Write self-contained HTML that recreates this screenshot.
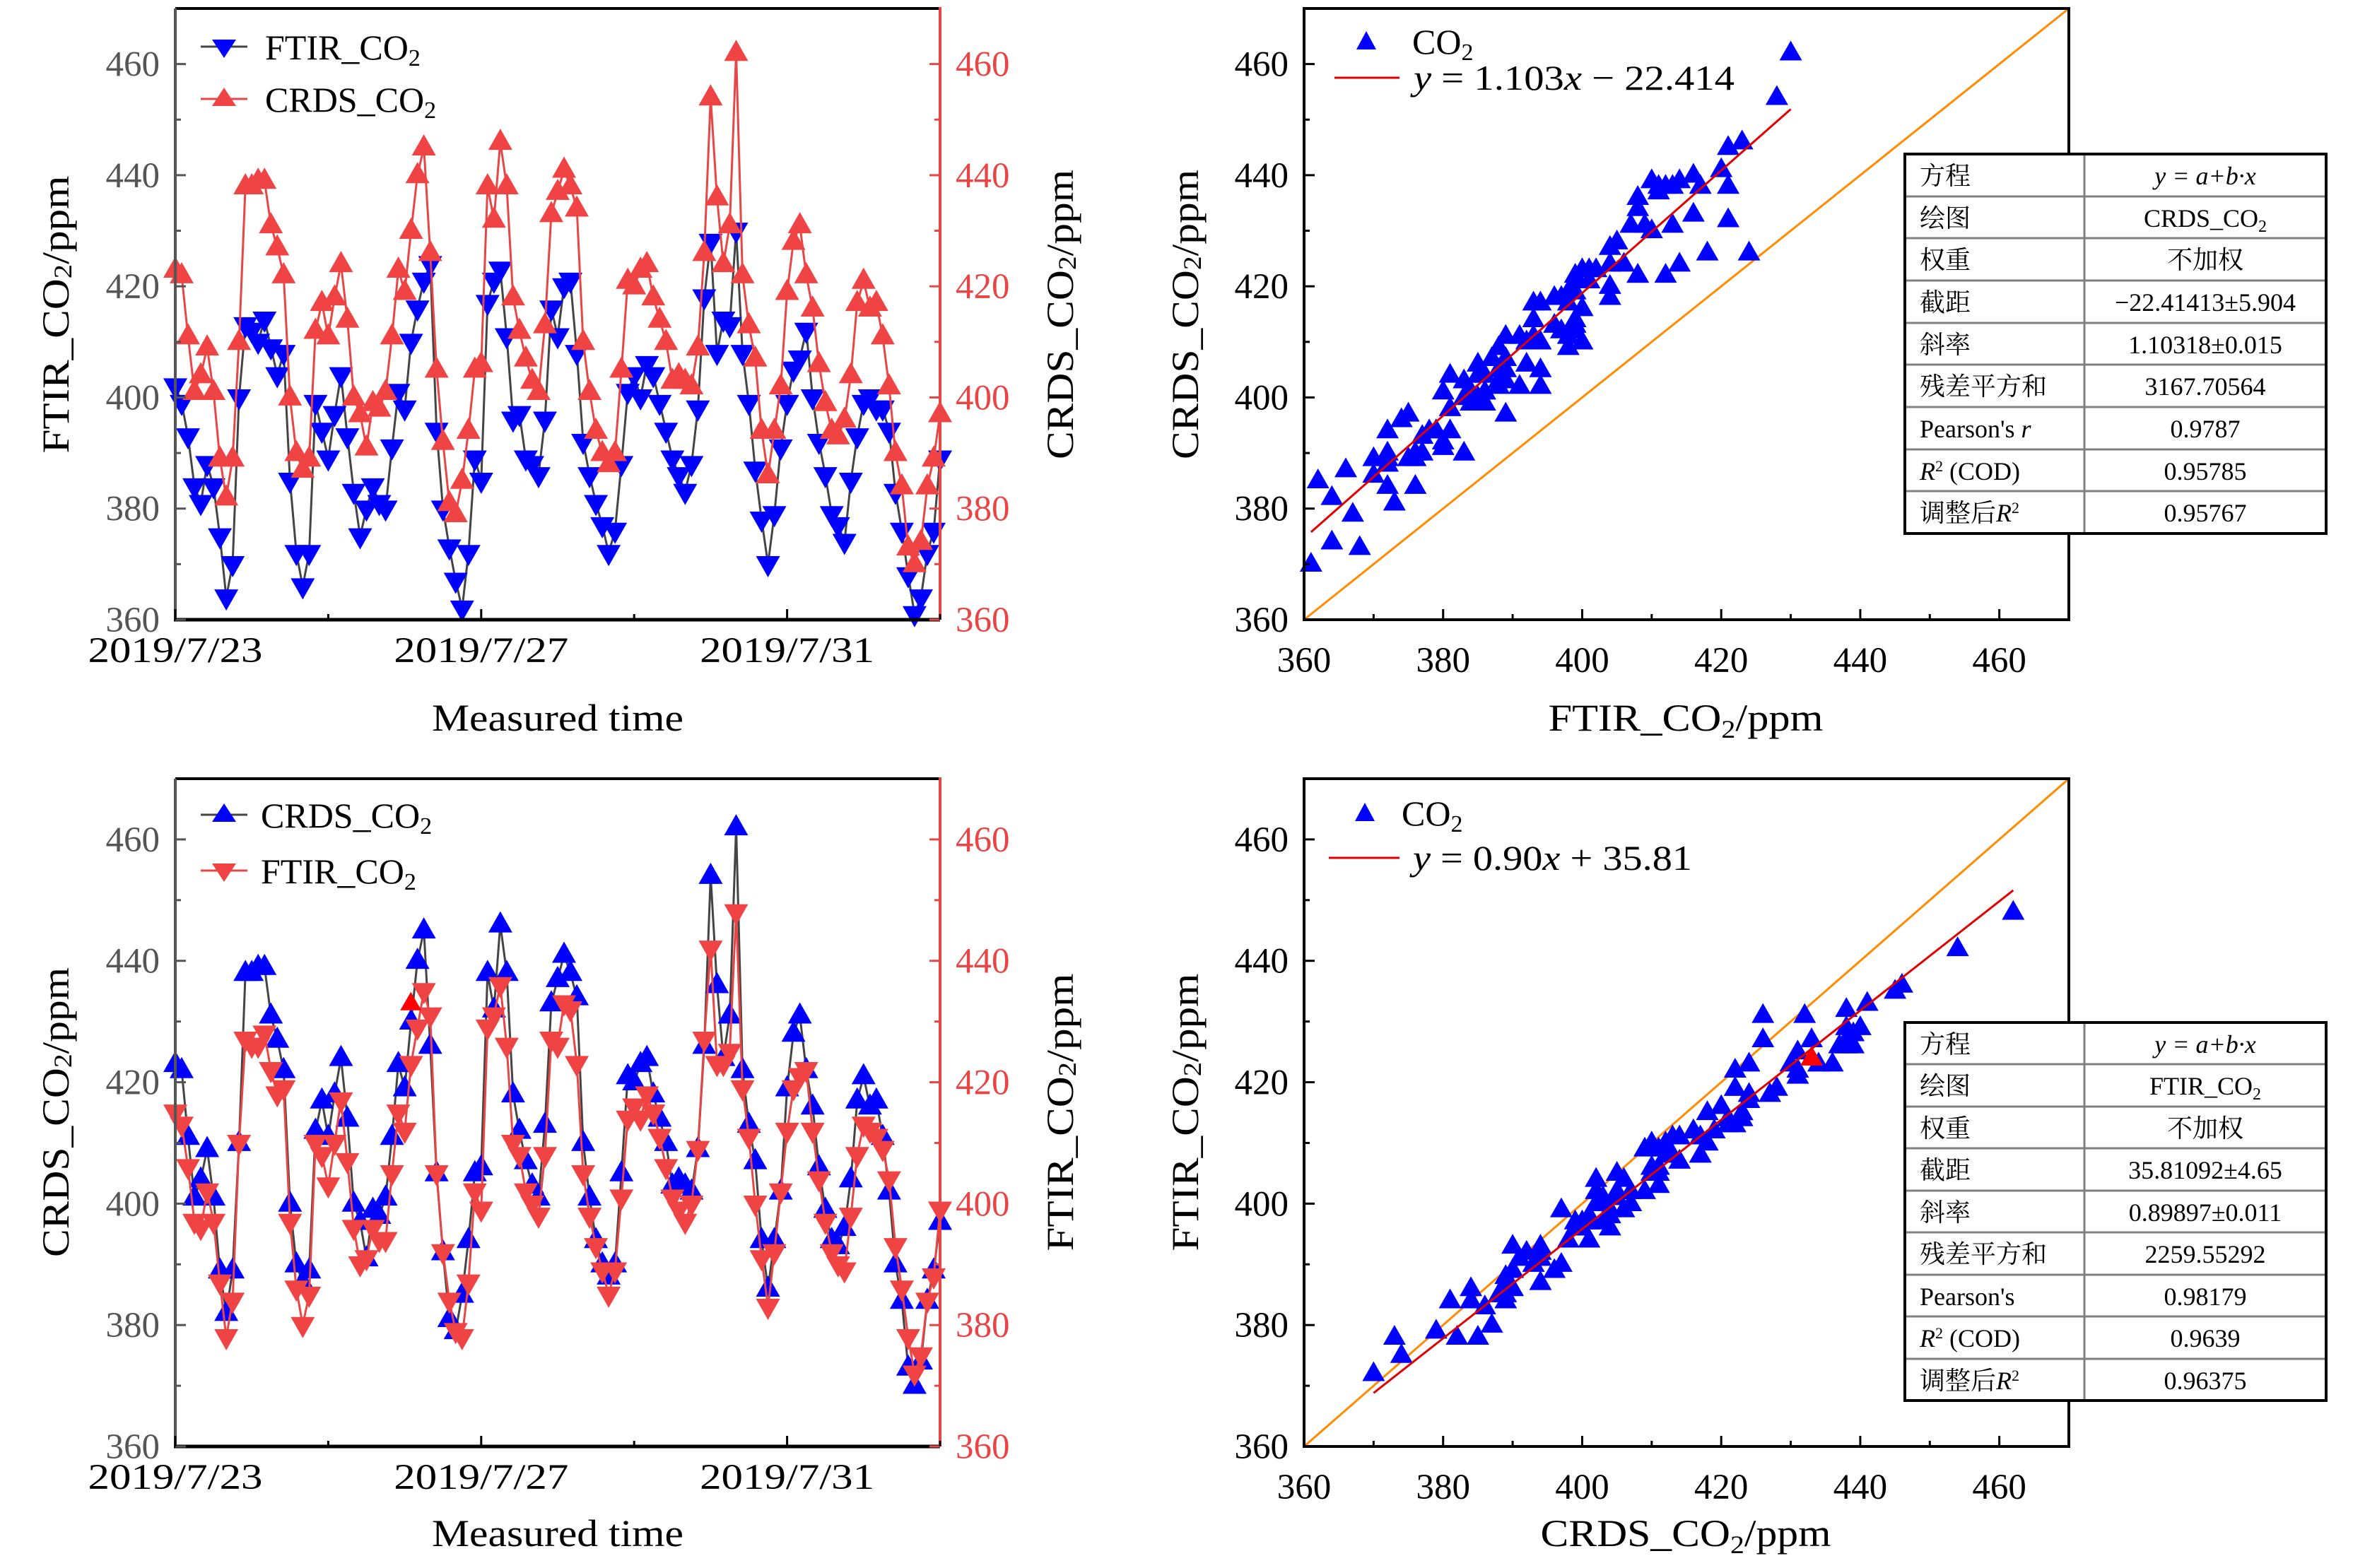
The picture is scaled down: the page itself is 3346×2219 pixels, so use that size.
<!DOCTYPE html>
<html><head><meta charset="utf-8"><title>CO2 comparison</title>
<style>
html,body{margin:0;padding:0;background:#fff;}
svg{display:block;font-family:"Liberation Serif","Noto Serif CJK SC",serif;}
.tk{font-size:51px;}
.tt{font-size:54px;}
.lg{font-size:50px;}
.tb{font-size:36px;font-family:"Liberation Serif","Noto Serif CJK SC",serif;}
</style></head>
<body>
<svg id="fig" width="3346" height="2219" viewBox="0 0 3346 2219" xmlns="http://www.w3.org/2000/svg">
<rect x="0" y="0" width="3346" height="2219" fill="#fff"/>
<g id="p1"></g>
<g id="p2"></g>
<g id="p3"></g>
<g id="p4"></g>

<!-- axis titles -->
<text class="tt" text-anchor="middle" dominant-baseline="central" transform="translate(79,445) rotate(-90)" textLength="393" lengthAdjust="spacingAndGlyphs">FTIR_CO<tspan font-size="36" dy="10">2</tspan><tspan dy="-10">/ppm</tspan></text>
<text class="tt" text-anchor="middle" dominant-baseline="central" transform="translate(1500,445) rotate(-90)" textLength="410" lengthAdjust="spacingAndGlyphs">CRDS_CO<tspan font-size="36" dy="10">2</tspan><tspan dy="-10">/ppm</tspan></text>
<text class="tt" text-anchor="middle" x="789" y="1034" textLength="356" lengthAdjust="spacingAndGlyphs">Measured time</text>
<text class="tt" text-anchor="middle" dominant-baseline="central" transform="translate(1677,445) rotate(-90)" textLength="410" lengthAdjust="spacingAndGlyphs">CRDS_CO<tspan font-size="36" dy="10">2</tspan><tspan dy="-10">/ppm</tspan></text>
<text class="tt" text-anchor="middle" x="2385" y="1034" textLength="389" lengthAdjust="spacingAndGlyphs">FTIR_CO<tspan font-size="36" dy="10">2</tspan><tspan dy="-10">/ppm</tspan></text>
<text class="tt" text-anchor="middle" dominant-baseline="central" transform="translate(79,1574) rotate(-90)" textLength="410" lengthAdjust="spacingAndGlyphs">CRDS_CO<tspan font-size="36" dy="10">2</tspan><tspan dy="-10">/ppm</tspan></text>
<text class="tt" text-anchor="middle" dominant-baseline="central" transform="translate(1500,1574) rotate(-90)" textLength="393" lengthAdjust="spacingAndGlyphs">FTIR_CO<tspan font-size="36" dy="10">2</tspan><tspan dy="-10">/ppm</tspan></text>
<text class="tt" text-anchor="middle" x="789" y="2188" textLength="356" lengthAdjust="spacingAndGlyphs">Measured time</text>
<text class="tt" text-anchor="middle" dominant-baseline="central" transform="translate(1677,1574) rotate(-90)" textLength="393" lengthAdjust="spacingAndGlyphs">FTIR_CO<tspan font-size="36" dy="10">2</tspan><tspan dy="-10">/ppm</tspan></text>
<text class="tt" text-anchor="middle" x="2385" y="2188" textLength="411" lengthAdjust="spacingAndGlyphs">CRDS_CO<tspan font-size="36" dy="10">2</tspan><tspan dy="-10">/ppm</tspan></text>

<!-- legends -->
<g>
  <g>
    <line x1="284" y1="66" x2="350" y2="66" stroke="#444" stroke-width="3"/>
    <path d="M300,56 L334,56 L317,82 Z" fill="#0000ff"/>
    <text class="lg" x="375" y="84">FTIR_CO<tspan font-size="34" dy="9">2</tspan></text>
  </g>
  <g>
    <line x1="284" y1="140" x2="350" y2="140" stroke="#e84646" stroke-width="3"/>
    <path d="M300,150 L334,150 L317,124 Z" fill="#f04444"/>
    <text class="lg" x="375" y="158">CRDS_CO<tspan font-size="34" dy="9">2</tspan></text>
  </g>
</g>
<g>
  <g>
    <line x1="284" y1="1153" x2="350" y2="1153" stroke="#444" stroke-width="3"/>
    <path d="M300,1163 L334,1163 L317,1137 Z" fill="#0000ff"/>
    <text class="lg" x="369" y="1171">CRDS_CO<tspan font-size="34" dy="9">2</tspan></text>
  </g>
  <g>
    <line x1="284" y1="1232" x2="350" y2="1232" stroke="#e84646" stroke-width="3"/>
    <path d="M300,1222 L334,1222 L317,1248 Z" fill="#f04444"/>
    <text class="lg" x="369" y="1250">FTIR_CO<tspan font-size="34" dy="9">2</tspan></text>
  </g>
</g>
<g>
  <path d="M1919,70 L1947,70 L1933,44 Z" fill="#0000ff"/>
  <text class="lg" x="1998" y="76">CO<tspan font-size="34" dy="9">2</tspan></text>
  <line x1="1888" y1="110" x2="1980" y2="110" stroke="#e00000" stroke-width="3"/>
  <text class="lg" x="2000" y="127" textLength="454" lengthAdjust="spacingAndGlyphs"><tspan font-style="italic">y</tspan> = 1.103<tspan font-style="italic">x</tspan> − 22.414</text>
</g>
<g>
  <path d="M1917,1162 L1945,1162 L1931,1136 Z" fill="#0000ff"/>
  <text class="lg" x="1983" y="1168">CO<tspan font-size="34" dy="9">2</tspan></text>
  <line x1="1880" y1="1214" x2="1980" y2="1214" stroke="#e00000" stroke-width="3"/>
  <text class="lg" x="1999" y="1231" textLength="395" lengthAdjust="spacingAndGlyphs"><tspan font-style="italic">y</tspan> = 0.90<tspan font-style="italic">x</tspan> + 35.81</text>
</g>

<!-- tables -->
<g class="tb">
  <rect x="2695" y="218" width="596" height="537" fill="#fff" stroke="none"/>
  <g stroke="#808080" stroke-width="3">
    <line x1="2949" y1="218" x2="2949" y2="755"/>
    <line x1="2695" y1="278" x2="3291" y2="278"/><line x1="2695" y1="337" x2="3291" y2="337"/>
    <line x1="2695" y1="397" x2="3291" y2="397"/><line x1="2695" y1="457" x2="3291" y2="457"/>
    <line x1="2695" y1="516" x2="3291" y2="516"/><line x1="2695" y1="576" x2="3291" y2="576"/>
    <line x1="2695" y1="636" x2="3291" y2="636"/><line x1="2695" y1="695" x2="3291" y2="695"/>
  </g>
  <rect x="2695" y="218" width="596" height="537" fill="none" stroke="#000" stroke-width="4"/>
  <g text-anchor="start">
    <text x="2716" y="261">方程</text><text x="2716" y="321">绘图</text><text x="2716" y="380">权重</text>
    <text x="2716" y="440">截距</text><text x="2716" y="500">斜率</text><text x="2716" y="559">残差平方和</text>
    <text x="2716" y="619">Pearson's <tspan font-style="italic">r</tspan></text>
    <text x="2716" y="679"><tspan font-style="italic">R</tspan><tspan font-size="22" dy="-12">2</tspan><tspan dy="12"> (COD)</tspan></text>
    <text x="2716" y="738">调整后<tspan font-style="italic">R</tspan><tspan font-size="22" dy="-12">2</tspan></text>
  </g>
  <g text-anchor="middle">
    <text x="3120" y="261" font-style="italic">y = a+b·x</text>
    <text x="3120" y="321">CRDS_CO<tspan font-size="24" dy="7">2</tspan></text>
    <text x="3120" y="380">不加权</text>
    <text x="3120" y="440">−22.41413±5.904</text>
    <text x="3120" y="500">1.10318±0.015</text>
    <text x="3120" y="559">3167.70564</text>
    <text x="3120" y="619">0.9787</text>
    <text x="3120" y="679">0.95785</text>
    <text x="3120" y="738">0.95767</text>
  </g>
</g>
<g class="tb">
  <rect x="2695" y="1447" width="596" height="535" fill="#fff" stroke="none"/>
  <g stroke="#808080" stroke-width="3">
    <line x1="2949" y1="1447" x2="2949" y2="1982"/>
    <line x1="2695" y1="1506" x2="3291" y2="1506"/><line x1="2695" y1="1566" x2="3291" y2="1566"/>
    <line x1="2695" y1="1625" x2="3291" y2="1625"/><line x1="2695" y1="1685" x2="3291" y2="1685"/>
    <line x1="2695" y1="1744" x2="3291" y2="1744"/><line x1="2695" y1="1804" x2="3291" y2="1804"/>
    <line x1="2695" y1="1863" x2="3291" y2="1863"/><line x1="2695" y1="1923" x2="3291" y2="1923"/>
  </g>
  <rect x="2695" y="1447" width="596" height="535" fill="none" stroke="#000" stroke-width="4"/>
  <g text-anchor="start">
    <text x="2716" y="1490">方程</text><text x="2716" y="1549">绘图</text><text x="2716" y="1609">权重</text>
    <text x="2716" y="1668">截距</text><text x="2716" y="1728">斜率</text><text x="2716" y="1787">残差平方和</text>
    <text x="2716" y="1847">Pearson's</text>
    <text x="2716" y="1906"><tspan font-style="italic">R</tspan><tspan font-size="22" dy="-12">2</tspan><tspan dy="12"> (COD)</tspan></text>
    <text x="2716" y="1966">调整后<tspan font-style="italic">R</tspan><tspan font-size="22" dy="-12">2</tspan></text>
  </g>
  <g text-anchor="middle">
    <text x="3120" y="1490" font-style="italic">y = a+b·x</text>
    <text x="3120" y="1549">FTIR_CO<tspan font-size="24" dy="7">2</tspan></text>
    <text x="3120" y="1609">不加权</text>
    <text x="3120" y="1668">35.81092±4.65</text>
    <text x="3120" y="1728">0.89897±0.011</text>
    <text x="3120" y="1787">2259.55292</text>
    <text x="3120" y="1847">0.98179</text>
    <text x="3120" y="1906">0.9639</text>
    <text x="3120" y="1966">0.96375</text>
  </g>
</g>
</svg>
<script>
// ---- data (2-hourly samples, 2019/7/23 00:00 .. 2019/8/2 00:00) ----
const ftir = [402,399,393,384,381,388,384,375,364,370,400,413,412,410,414,409,404,408,385,372,366,372,399,394,389,397,404,393,383,375,380,384,381,380,391,401,398,410,416,421,424,394,380,373,367,362,372,389,385,417,421,423,411,396,397,389,388,386,396,416,411,420,421,408,392,386,381,377,372,376,388,401,404,400,406,404,399,394,389,386,383,388,398,418,428,408,414,413,430,408,399,387,378,370,379,391,399,405,407,412,400,392,386,379,377,374,385,393,399,400,398,398,394,383,376,368,361,364,372,376,389];
const crds = [423,422,411,401,404,409,401,389,382,389,410,438,438,439,439,431,427,422,400,390,387,389,412,417,411,418,424,414,400,397,391,399,398,401,411,423,419,430,440,445,426,405,392,381,379,385,394,405,406,438,432,446,438,418,412,407,403,401,413,433,437,441,438,434,410,401,394,390,388,390,405,421,420,423,424,418,414,410,403,404,403,402,409,426,454,436,424,431,462,422,413,407,394,386,394,402,419,428,431,422,416,406,399,394,393,396,404,417,421,416,417,411,402,390,384,373,370,374,384,389,397];
const ftirCal = [415,413,406,397,396,402,397,387,378,384,410,427,426,426,428,422,418,419,397,386,380,385,410,408,403,410,417,407,396,390,391,396,394,394,405,415,412,423,429,435,431,405,392,384,379,378,387,402,399,429,431,436,426,410,408,402,400,398,408,427,426,433,432,423,405,398,393,389,385,389,401,414,416,414,418,415,411,406,401,399,397,400,409,427,442,423,423,425,448,419,411,400,391,383,392,402,412,419,421,422,412,404,397,392,390,389,398,408,413,412,411,409,404,393,386,378,372,375,384,388,399];
const stepHours = [2];
const fitTop = [1.103, -22.414];     // slope, intercept
const fitBottom = [0.90, 35.81];
const highlightDay = [3.08];
const highlightCrds = [433];
const highlightFtir = [424];
const valueTicks = [360, 380, 400, 420, 440, 460];
const valueMinorTicks = [370, 390, 410, 430, 450];
const dateTickLabels = ['2019/7/23', '2019/7/27', '2019/7/31'];
const dateTickDays = [0, 4, 8];
const dateMinorDays = [2, 6, 10];
const valueDomain = [360, 470];
const dayDomain = [0, 10];

const NS = 'http://www.w3.org/2000/svg';
function mk(tag, attrs, parent) {
  const e = document.createElementNS(NS, tag);
  for (const k in attrs) e.setAttribute(k, attrs[k]);
  parent.appendChild(e);
  return e;
}
function linScale(d0, d1, r0, r1) { return v => r0 + (v - d0) / (d1 - d0) * (r1 - r0); }
function triPath(cx, cy, w, h, up) {
  if (up) return `M${cx},${cy - h * 0.62} L${cx + w / 2},${cy + h * 0.38} L${cx - w / 2},${cy + h * 0.38} Z`;
  return `M${cx},${cy + h * 0.62} L${cx + w / 2},${cy - h * 0.38} L${cx - w / 2},${cy - h * 0.38} Z`;
}

function timePanel(g, P, blueVals, redVals, blueUp, leftColor) {
  const sx = linScale(dayDomain[0], dayDomain[1], P.x0, P.x1);
  const sy = linScale(valueDomain[0], valueDomain[1], P.y1, P.y0);
  const dayOf = i => i * stepHours[0] / 24;
  function series(vals, lineColor, fill, up, nm) {
    const sg = mk('g', {}, g);
    
    
    const pts = vals.map((v, i) => sx(dayOf(i)).toFixed(1) + ',' + sy(v).toFixed(1)).join(' ');
    const pl = mk('polyline', { points: pts, fill: 'none', stroke: lineColor, 'stroke-width': 3, 'stroke-linejoin': 'round' }, sg);
    
    
    vals.forEach((v, i) => {
      const m = mk('path', { d: triPath(sx(dayOf(i)), sy(v), 34, 30, up), fill: fill }, sg);
      
      
    });
  }
  series(blueVals, '#444', '#0000ff', blueUp, P.blueName);
  series(redVals, '#e84646', '#f04444', !blueUp, P.redName);
  if (P.highlight) {
    const h = mk('path', { d: triPath(sx(highlightDay[0]), sy(highlightCrds[0]), 30, 26, true), fill: '#ff0000' }, g);
    
    
  }
  const top = mk('line', { x1: P.x0, y1: P.y0, x2: P.x1, y2: P.y0, stroke: '#000', 'stroke-width': 4 }, g);
  
  
  const bot = mk('line', { x1: P.x0 - 2, y1: P.y1, x2: P.x1, y2: P.y1, stroke: '#000', 'stroke-width': 5 }, g);
  
  
  const la = mk('line', { x1: P.x0, y1: P.y0, x2: P.x0, y2: P.y1, stroke: leftColor, 'stroke-width': 4 }, g);
  
  
  const ra = mk('line', { x1: P.x1, y1: P.y0 - 2, x2: P.x1, y2: P.y1, stroke: '#e84646', 'stroke-width': 4 }, g);
  
  
  valueTicks.forEach(v => {
    const y = sy(v);
    const t1 = mk('line', { x1: P.x0, y1: y, x2: P.x0 + 15, y2: y, stroke: leftColor, 'stroke-width': 3 }, g);
    
    
    const l1 = mk('text', { x: P.x0 - 22, y: y + 17, 'text-anchor': 'end', fill: leftColor, class: 'tk' }, g);
    l1.textContent = v;
    
    
    const t2 = mk('line', { x1: P.x1, y1: y, x2: P.x1 - 15, y2: y, stroke: '#e84646', 'stroke-width': 3 }, g);
    
    
    const l2 = mk('text', { x: P.x1 + 22, y: y + 17, 'text-anchor': 'start', fill: '#e84646', class: 'tk' }, g);
    l2.textContent = v;
    
    
  });
  valueMinorTicks.forEach(v => {
    const y = sy(v);
    const t1 = mk('line', { x1: P.x0, y1: y, x2: P.x0 + 8, y2: y, stroke: leftColor, 'stroke-width': 3 }, g);
    
    
    const t2 = mk('line', { x1: P.x1, y1: y, x2: P.x1 - 8, y2: y, stroke: '#e84646', 'stroke-width': 3 }, g);
    
    
  });
  dateTickDays.forEach((d, i) => {
    const x = sx(d);
    const t = mk('line', { x1: x, y1: P.y1, x2: x, y2: P.y1 - 15, stroke: '#000', 'stroke-width': 3 }, g);
    
    
    const l = mk('text', { x: x, y: P.y1 + 60, 'text-anchor': 'middle', fill: '#000', class: 'tk', textLength: 247, lengthAdjust: 'spacingAndGlyphs' }, g);
    l.textContent = dateTickLabels[i];
    
    
  });
  dateMinorDays.forEach(d => {
    const x = sx(d);
    const t = mk('line', { x1: x, y1: P.y1, x2: x, y2: P.y1 - 8, stroke: '#000', 'stroke-width': 3 }, g);
    
    
  });
}

function scatterPanel(g, P, xs, ys, fit, hx, hy) {
  const sx = linScale(valueDomain[0], valueDomain[1], P.x0, P.x1);
  const sy = linScale(valueDomain[0], valueDomain[1], P.y1, P.y0);
  const id = mk('line', { x1: sx(valueDomain[0]), y1: sy(valueDomain[0]), x2: sx(valueDomain[1]), y2: sy(valueDomain[1]), stroke: '#ff8c00', 'stroke-width': 3 }, g);
  
  
  const mg = mk('g', {}, g);
  
  
  xs.forEach((xv, i) => {
    const m = mk('path', { d: triPath(sx(xv), sy(ys[i]), 32, 28, true), fill: '#0000ff' }, mg);
    
    
  });
  if (hx !== undefined) {
    const h = mk('path', { d: triPath(sx(hx), sy(hy), 32, 28, true), fill: '#ff0000' }, g);
    
    
  }
  const xmin = Math.min(...xs), xmax = Math.max(...xs);
  const fl = mk('line', { x1: sx(xmin), y1: sy(fit[0] * xmin + fit[1]), x2: sx(xmax), y2: sy(fit[0] * xmax + fit[1]), stroke: '#e00000', 'stroke-width': 3 }, g);
  
  
  const fr = mk('rect', { x: P.x0, y: P.y0, width: P.x1 - P.x0, height: P.y1 - P.y0, fill: 'none', stroke: '#000', 'stroke-width': 4 }, g);
  
  
  valueTicks.forEach(v => {
    const y = sy(v), x = sx(v);
    const t1 = mk('line', { x1: P.x0, y1: y, x2: P.x0 + 15, y2: y, stroke: '#000', 'stroke-width': 3 }, g);
    
    
    const l1 = mk('text', { x: P.x0 - 22, y: y + 17, 'text-anchor': 'end', fill: '#000', class: 'tk' }, g);
    l1.textContent = v;
    
    
    const t2 = mk('line', { x1: x, y1: P.y1, x2: x, y2: P.y1 - 15, stroke: '#000', 'stroke-width': 3 }, g);
    
    
    const l2 = mk('text', { x: x, y: P.y1 + 74, 'text-anchor': 'middle', fill: '#000', class: 'tk' }, g);
    l2.textContent = v;
    
    
  });
  valueMinorTicks.forEach(v => {
    const t1 = mk('line', { x1: P.x0, y1: sy(v), x2: P.x0 + 8, y2: sy(v), stroke: '#000', 'stroke-width': 3 }, g);
    
    
    const t2 = mk('line', { x1: sx(v), y1: P.y1, x2: sx(v), y2: P.y1 - 8, stroke: '#000', 'stroke-width': 3 }, g);
    
    
  });
}

timePanel(document.getElementById('p1'), { x0: 248, x1: 1330, y0: 12, y1: 877, blueName: 'ftir', redName: 'crds' }, ftir, crds, false, '#555');
timePanel(document.getElementById('p3'), { x0: 248, x1: 1330, y0: 1102, y1: 2047, blueName: 'crds', redName: 'ftir-calibrated', highlight: true }, crds, ftirCal, true, '#555');
scatterPanel(document.getElementById('p2'), { x0: 1845, x1: 2927, y0: 12, y1: 877 }, ftir, crds, fitTop);
scatterPanel(document.getElementById('p4'), { x0: 1845, x1: 2927, y0: 1102, y1: 2047 }, crds, ftirCal, fitBottom, highlightCrds[0], highlightFtir[0]);
</script>
</body></html>
